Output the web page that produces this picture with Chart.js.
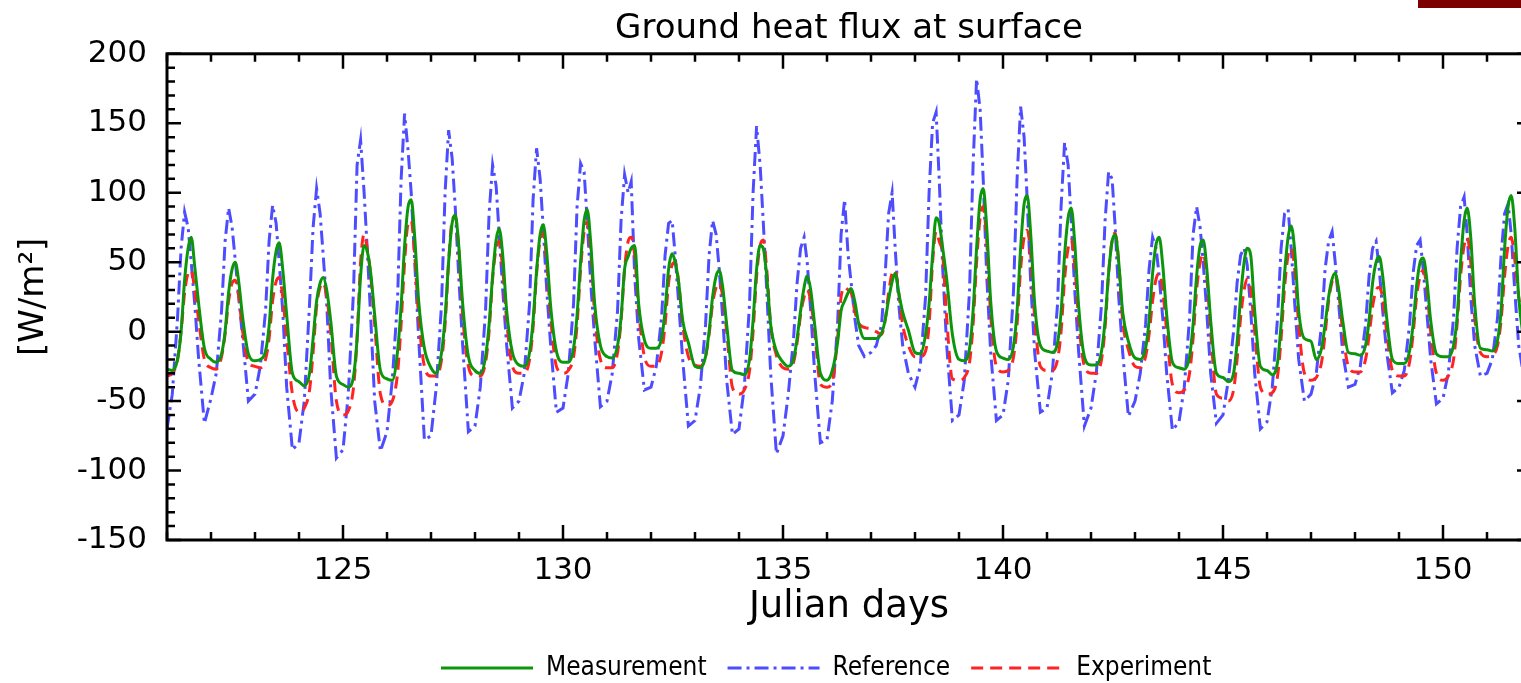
<!DOCTYPE html>
<html><head><meta charset="utf-8">
<script src="https://cdn.jsdelivr.net/npm/chart.js@4"></script>
<style>
html,body{margin:0;padding:0;background:#fff;overflow:hidden;width:1521px;height:683px}
#wrap{position:absolute;left:0;top:0;width:1540px;height:683px}
#bar{position:absolute;left:1418px;top:0;width:110px;height:8px;background:#7d0000}
</style></head><body>
<div id="wrap"><canvas id="c" width="1540" height="683" style="width:1540px;height:683px"></canvas></div>
<div id="bar"></div>
<script>
const days = [121,122,123,124,125,126,127,128,129,130,131,132,133,134,135,136,137,138,139,140,141,142,143,144,145,146,147,148,149,150,151];
const sampleOffsets = [0, 0.12, 0.24, 0.32, 0.40, 0.48, 0.55, 0.63, 0.72, 0.85];

const measurement = [
-27,-28,-20,0,37,60,68,47,20,-12,
-20,-22,-16,0,28,45,50,36,10,-16,
-21,-20,-14,4,38,58,64,45,12,-30,
-36,-39,-30,-5,22,35,39,30,8,-32,
-38,-40,-32,-5,40,62,58,42,12,-28,
-34,-35,-14,18,62,90,95,68,22,-12,
-26,-30,-15,10,50,78,84,62,20,-18,
-28,-30,-18,5,40,66,74,55,15,-15,
-24,-25,-15,8,44,70,77,57,18,-14,
-22,-22,-12,12,50,80,88,64,20,-10,
-18,-19,-10,10,45,54,60,62,20,-6,
-12,-12,-5,15,45,56,50,35,8,-8,
-25,-26,-18,0,25,40,44,32,5,-28,
-30,-31,-20,8,45,62,60,40,5,-14,
-22,-25,-20,-5,15,32,40,30,5,-30,
-35,-28,-8,15,22,28,31,22,6,-5,
-5,-5,-1,8,23,36,42,28,14,1,
-15,-16,-2,20,55,82,78,60,38,-2,
-20,-21,-12,15,60,95,103,75,22,-14,
-19,-20,-10,15,60,92,98,70,20,-10,
-14,-15,-8,14,55,82,89,64,18,-18,
-24,-24,-14,8,42,65,70,50,14,-7,
-19,-20,-12,8,42,63,68,48,12,-22,
-26,-27,-18,5,40,62,66,46,8,-30,
-33,-36,-30,-8,25,50,60,55,15,-25,
-28,-31,-22,5,42,68,76,58,15,-5,
-7,-20,-12,5,25,38,42,30,8,-15,
-16,-17,-10,8,35,50,54,40,10,-20,
-23,-23,-14,5,33,50,53,38,8,-16,
-18,-18,-10,10,50,80,89,68,20,-12,
-13,-14,-6,15,60,90,98,75,25,-10
];

const reference = [
-70,-45,10,60,86,75,50,20,-20,-66,
-48,-30,15,65,89,75,52,25,-5,-50,
-45,-25,15,65,91,78,50,15,-40,-85,
-80,-50,20,75,103,85,55,20,-40,-91,
-85,-45,30,120,138,100,60,10,-50,-86,
-72,-35,23,109,157,130,100,50,-5,-78,
-75,-40,20,100,145,125,90,40,-10,-72,
-68,-40,15,85,120,105,70,30,-10,-55,
-50,-30,20,95,132,110,75,30,-10,-58,
-55,-30,20,90,121,115,80,35,-5,-54,
-50,-30,15,80,113,100,108,40,-5,-42,
-40,-25,10,55,78,80,55,20,-20,-68,
-64,-40,5,55,80,70,45,10,-35,-74,
-70,-40,20,100,148,120,80,30,-30,-88,
-75,-45,-5,35,60,68,50,15,-30,-80,
-78,-50,5,70,95,55,35,10,-10,-18,
-15,-10,5,40,85,100,60,20,-10,-30,
-40,-25,25,100,150,158,110,45,-10,-64,
-60,-35,30,120,182,160,110,40,-15,-64,
-60,-35,30,110,162,140,95,35,-15,-58,
-55,-30,20,90,136,120,80,30,-15,-68,
-55,-30,20,80,115,110,75,25,-15,-61,
-50,-30,5,45,68,60,40,10,-30,-71,
-65,-40,10,70,90,75,50,15,-30,-66,
-60,-35,0,35,55,60,48,15,-30,-70,
-65,-40,10,60,85,88,60,20,-20,-50,
-45,-30,5,45,65,72,50,20,-15,-40,
-38,-25,5,40,60,65,45,15,-15,-44,
-40,-28,5,42,62,66,45,15,-20,-52,
-48,-30,10,60,90,97,70,25,-10,-32,
-30,-20,10,55,85,92,70,30,-10,-35
];

const experiment = [
-32,-30,-20,0,28,42,44,30,8,-20,
-26,-27,-18,-2,22,35,37,25,0,-22,
-25,-26,-20,-5,22,36,39,25,-5,-45,
-58,-55,-42,-15,18,32,35,25,0,-50,
-60,-57,-40,-5,50,70,60,40,5,-45,
-53,-50,-30,5,50,78,80,55,10,-25,
-32,-32,-20,5,50,80,83,60,12,-25,
-32,-32,-22,0,38,60,65,45,8,-25,
-30,-30,-20,3,42,66,71,50,10,-25,
-30,-28,-18,5,45,72,79,58,12,-20,
-26,-26,-15,8,45,65,68,55,15,-18,
-25,-25,-15,5,35,48,50,35,5,-18,
-24,-25,-18,-2,20,32,35,25,0,-40,
-45,-42,-28,0,40,62,66,45,5,-17,
-26,-27,-22,-8,12,25,30,22,0,-38,
-40,-36,-5,25,32,30,28,15,6,3,
2,0,-2,8,28,42,44,28,5,-10,
-18,-18,-14,5,50,72,65,55,10,-34,
-35,-33,-22,5,50,82,90,65,12,-25,
-29,-28,-18,5,45,68,73,55,10,-25,
-28,-28,-20,0,38,60,66,48,8,-25,
-30,-30,-20,3,42,66,71,50,8,-13,
-25,-26,-18,-2,22,38,42,30,0,-38,
-44,-42,-30,-5,30,50,56,40,0,-45,
-48,-50,-42,-20,10,30,38,30,0,-40,
-45,-44,-32,-5,32,55,60,45,5,-30,
-35,-33,-22,-2,22,36,40,28,0,-25,
-29,-29,-20,-3,18,30,32,24,0,-28,
-32,-32,-22,-2,25,40,44,32,0,-30,
-35,-32,-20,5,40,62,68,50,10,-15,
-18,-17,-10,8,40,62,68,52,25,0
];

const xTickValues = [125,130,135,140,145,150];
const yTickValues = [-150,-100,-50,0,50,100,150,200];
const legendStartX = 441;
const legendCenterY = 668;

const times = [];
days.forEach(d => sampleOffsets.forEach(o => times.push(d + o)));
const toPts = arr => arr.map((v, i) => ({x: times[i], y: v}));

const frameTicks = {
  id: 'frameTicks',
  afterDatasetsDraw(chart) {
    const {ctx, chartArea: a, scales: {x, y}} = chart;
    ctx.save();
    ctx.strokeStyle = '#000';
    ctx.lineWidth = 2.5;
    ctx.beginPath();
    for (let v = Math.ceil(x.min); v <= x.max; v += 1) {
      const px = x.getPixelForValue(v);
      const L = v % 5 === 0 ? 15 : 8;
      ctx.moveTo(px, a.bottom); ctx.lineTo(px, a.bottom - L);
      ctx.moveTo(px, a.top); ctx.lineTo(px, a.top + L);
    }
    for (let v = y.min; v <= y.max; v += 10) {
      const py = y.getPixelForValue(v);
      const L = v % 50 === 0 ? 14 : 8;
      ctx.moveTo(a.left, py); ctx.lineTo(a.left + L, py);
      ctx.moveTo(a.right, py); ctx.lineTo(a.right - L, py);
    }
    ctx.stroke();
    ctx.lineWidth = 3;
    ctx.strokeRect(a.left, a.top, a.right - a.left, a.bottom - a.top);
    ctx.restore();
  }
};

const legendPlace = {
  id: 'legendPlace',
  afterLayout(chart) {
    const lg = chart.legend;
    if (!lg || !lg.lineWidths) return;
    const pad = lg.options.labels.padding;
    const fs = lg.options.labels.font.size;
    const start = (lg.left + pad + lg.right - lg.lineWidths[0]) / 2;
    const dx = legendStartX - start;
    const dy = legendCenterY - (lg.top + pad + fs / 2);
    lg.left += dx; lg.right += dx; lg.top += dy; lg.bottom += dy;
  }
};

const font = 'DejaVu Sans';
new Chart(document.getElementById('c'), {
  type: 'line',
  data: {
    datasets: [
      {label: 'Measurement', data: toPts(measurement), borderColor: '#0c960c', backgroundColor: '#0c960c', borderWidth: 3, pointRadius: 0, cubicInterpolationMode: 'monotone', order: 0},
      {label: 'Reference', data: toPts(reference), borderColor: '#4d4dff', backgroundColor: '#4d4dff', borderWidth: 3, borderDash: [14, 5, 3, 5], pointRadius: 0, tension: 0, order: 2},
      {label: 'Experiment', data: toPts(experiment), borderColor: '#ff2424', backgroundColor: '#ff2424', borderWidth: 3, borderDash: [12, 7], pointRadius: 0, cubicInterpolationMode: 'monotone', order: 1}
    ]
  },
  options: {
    responsive: false,
    animation: false,
    devicePixelRatio: 1,
    parsing: false,
    layout: {padding: {left: 0, right: 9, top: 0, bottom: 0}},
    plugins: {
      title: {display: true, text: 'Ground heat flux at surface', fullSize: false, color: '#000',
        font: {family: font, size: 34, weight: 'normal', lineHeight: 1.2}, padding: {top: 9, bottom: 4}},
      legend: {position: 'bottom', fullSize: false,
        labels: {usePointStyle: true, pointStyle: 'line', pointStyleWidth: 92, padding: 21, color: '#000',
          font: {family: "'DejaVu Sans Condensed', 'DejaVu Sans'", size: 26},
          sort: (a, b) => a.datasetIndex - b.datasetIndex,
          generateLabels: chart => Chart.defaults.plugins.legend.labels.generateLabels(chart).map(item => {
            const ds = chart.data.datasets[item.datasetIndex];
            item.lineDash = ds.borderDash || [];
            item.lineWidth = ds.borderWidth;
            item.strokeStyle = ds.borderColor;
            return item;
          })}},
      tooltip: {enabled: false}
    },
    scales: {
      x: {type: 'linear', min: 121, max: 152,
        afterBuildTicks: s => { s.ticks = xTickValues.map(v => ({value: v})); },
        afterFit: s => { s.height = 86; },
        grid: {display: false, drawTicks: false}, border: {display: false},
        ticks: {padding: 12, color: '#000', font: {family: font, size: 31}, maxRotation: 0, autoSkip: false},
        title: {display: true, text: 'Julian days', color: '#000', font: {family: font, size: 37, lineHeight: 1}, padding: {top: 0, bottom: 0}}},
      y: {type: 'linear', min: -150, max: 200,
        afterBuildTicks: s => { s.ticks = yTickValues.map(v => ({value: v})); },
        afterFit: s => { s.width = 167; },
        grid: {display: false, drawTicks: false}, border: {display: false},
        ticks: {padding: 20, color: '#000', font: {family: font, size: 31}},
        title: {display: true, text: '[W/m²]', color: '#000', font: {family: font, size: 34, lineHeight: 1.2}, padding: {top: 14, bottom: 0}}}
    }
  },
  plugins: [frameTicks, legendPlace]
});
</script>
</body></html>
